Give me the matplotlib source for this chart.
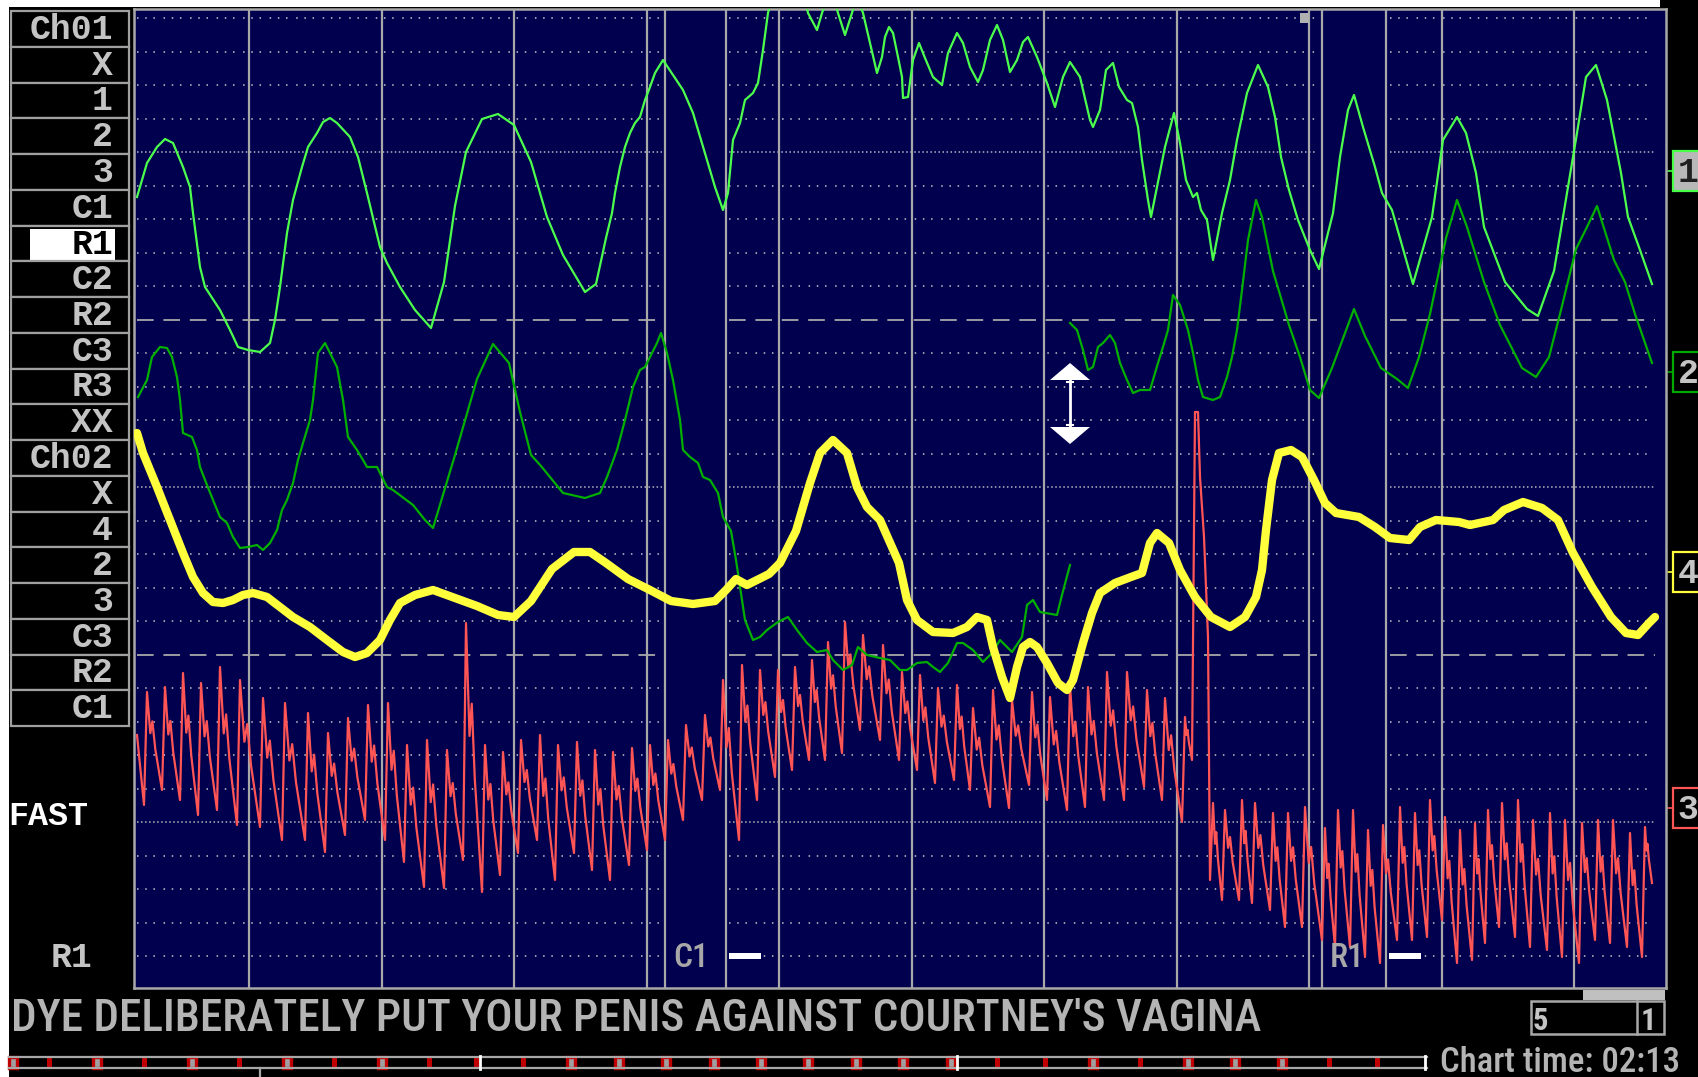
import matplotlib
matplotlib.use("Agg")
import matplotlib.pyplot as plt
from matplotlib.patches import Rectangle, Polygon

plt.rcParams['lines.scale_dashes'] = False

# ---------------- chart data (chart units: x = horizontal position, y = vertical position, top 9 / bottom 988)
pneumo_up_x = [137,147,157,165,173,183,190,193,200,205,220,230,238,248,260,270,275,280,287,293,302,308,317,323,330,337,350,358,367,380,387,400,415,431,444,455,466,482,498,514,531,547,563,585,596,606,612,615,620,625,630,635,640,645,650,655,663,683,693,707,715,723,728,733,740,745,753,758,763,768,775,790,803,808,817,822,828,833,838,845,852,857,863,870,877,882,885,889,893,898,902,903,908,913,919,925,933,942,948,957,963,970,978,983,990,997,1003,1010,1017,1023,1028,1037,1047,1055,1063,1070,1080,1090,1093,1100,1106,1113,1119,1127,1132,1138,1142,1148,1151,1157,1165,1174,1180,1186,1193,1197,1201,1207,1213,1222,1230,1237,1247,1258,1268,1275,1281,1289,1298,1310,1319,1333,1340,1348,1354,1363,1375,1382,1392,1413,1432,1443,1457,1466,1476,1484,1505,1527,1538,1554,1563,1577,1586,1596,1607,1621,1628,1640,1652]
pneumo_up_y = [197,163,147,139,143,167,187,213,267,287,310,330,347,350,352,343,320,287,233,200,167,147,133,122,118,123,137,157,193,247,263,287,310,328,282,206,152,119,114,125,162,217,255,292,284,238,213,193,167,147,133,123,117,100,87,73,60,90,113,160,187,210,193,140,123,100,93,83,50,13,-15,-25,-10,13,30,13,-5,-5,13,35,13,-3,13,43,73,57,37,27,33,57,77,98,97,60,43,58,77,85,53,33,43,67,82,70,40,25,40,72,60,42,37,57,83,107,77,62,77,120,127,110,70,63,87,100,103,127,160,200,217,187,147,113,143,180,197,193,210,220,260,213,180,140,93,65,87,117,157,190,220,250,269,213,157,110,95,127,167,193,210,284,217,140,117,133,173,227,282,309,316,271,217,133,77,65,100,173,217,250,284]

pneumo_lo_a_x = [138,147,152,160,167,172,177,180,183,192,197,200,205,213,220,227,233,240,248,257,263,270,277,282,287,293,298,303,310,313,318,325,330,337,343,348,357,363,367,377,387,393,413,425,433,455,477,493,509,520,531,541,563,585,600,607,617,625,633,640,645,650,657,661,667,673,680,683,690,698,703,710,718,723,731,736,742,745,753,760,767,778,788,797,807,817,827,833,843,852,858,867,880,890,900,907,917,927,933,940,948,957,963,973,983,992,1000,1012,1022,1027,1033,1040,1057,1062,1070]
pneumo_lo_a_y = [397,380,357,347,348,357,377,400,433,437,450,467,480,500,517,523,537,548,547,545,550,543,530,510,500,483,460,443,420,400,353,343,353,367,400,437,450,460,467,467,487,490,505,520,528,455,379,344,363,412,455,466,493,498,493,477,450,420,387,370,367,357,343,333,353,380,420,450,457,463,477,480,493,517,531,560,600,620,640,637,630,622,617,630,643,652,650,660,670,665,647,655,658,660,670,670,663,662,667,672,663,643,643,650,662,653,640,652,637,605,600,612,615,595,565]

pneumo_lo_b_x = [1070,1077,1083,1088,1093,1098,1103,1110,1115,1120,1127,1133,1140,1150,1153,1158,1163,1168,1173,1180,1188,1193,1198,1203,1213,1220,1227,1232,1237,1242,1248,1256,1262,1273,1289,1300,1310,1319,1332,1348,1354,1365,1381,1397,1408,1419,1430,1446,1457,1467,1484,1500,1522,1536,1549,1560,1576,1587,1597,1614,1625,1635,1652]
pneumo_lo_b_y = [323,330,350,370,367,347,343,335,343,363,380,393,390,390,380,363,347,330,295,305,330,353,380,397,400,397,377,357,330,290,240,200,217,271,325,357,390,398,368,325,309,336,368,379,388,357,314,238,200,227,282,325,368,377,357,314,249,227,206,260,282,314,363]

eda_x = [137,143,157,170,183,193,203,213,223,233,243,253,267,280,293,310,327,343,355,367,380,390,400,415,433,455,477,498,514,531,552,574,590,606,628,650,671,693,715,726,736,747,769,780,796,810,820,833,847,857,867,880,899,907,917,933,953,967,977,987,993,1002,1010,1017,1023,1030,1037,1047,1058,1067,1073,1083,1092,1100,1115,1131,1142,1150,1157,1169,1180,1195,1211,1230,1245,1256,1262,1266,1272,1279,1291,1302,1314,1325,1336,1359,1375,1390,1409,1420,1436,1459,1470,1493,1504,1523,1542,1558,1573,1592,1611,1626,1638,1649,1655]
eda_y = [433,453,487,520,553,577,593,602,603,600,595,593,597,607,617,627,640,652,657,653,640,620,603,595,590,598,606,615,617,601,569,552,552,563,579,590,601,604,601,590,579,585,574,563,531,483,453,440,453,487,507,520,563,600,620,632,633,627,617,620,647,677,698,667,647,642,647,663,683,690,680,643,613,593,583,577,573,543,533,543,570,597,617,627,617,597,570,530,480,453,450,457,480,503,513,517,527,538,540,527,520,522,525,520,510,502,508,520,553,587,617,633,635,623,617]

cardio_start = (137, 735)
cardio_beat_x = [147,165,183,201,220,240,263,285,308,328,348,368,388,
                 407,427,447,466,485,503,521,540,558,577,595,613,632,650,668,686,705,723,
                 742,760,778,795,812,828,845,863,883,902,920,938,957,973,993,1012,1032,1050,1070,1088,1107,1127,1147,1165,1185]
cardio_peak = [692,687,673,683,667,680,698,703,713,733,718,705,703,
               745,740,750,623,745,752,740,735,745,742,750,752,748,745,740,725,715,680,
               665,670,670,667,660,642,622,635,645,672,675,688,685,708,690,700,692,697,685,687,672,672,690,698,717]
cardio_trough = [805,790,800,815,810,825,827,840,840,852,835,820,840,
                 862,887,888,860,892,875,853,840,880,853,870,880,865,850,840,820,800,790,
                 840,800,777,770,760,760,753,730,740,760,770,783,780,790,807,808,785,800,810,807,800,800,787,800,822]
cardio_artifact_x = [1192,1195,1198,1200,1204,1208]
cardio_artifact_y = [760,412,412,477,537,637]
cardio2_beat_x = [1213,1225,1242,1255,1273,1288,1305,1325,1338,1353,1368,1383,1400,1415,1430,1445,1460,1475,1488,1502,1518,1533,1550,1565,1582,1598,1613,1630,1645]
cardio2_peak = [803,810,800,803,813,813,807,828,810,810,830,825,807,813,800,817,830,823,810,803,800,820,813,820,823,820,820,833,827]
cardio2_trough = [880,900,900,903,910,927,927,940,947,947,957,963,940,940,937,920,963,960,943,927,937,947,950,957,963,940,943,947,957]
cardio2_end = (1652, 883)

row_labels = ["Ch01","X","1","2","3","C1","R1","C2","R2","C3","R3","XX",
              "Ch02","X","4","2","3","C3","R2","C1"]
highlight_label = 6
regular_marks_x = [249 + 132.5*k for k in range(11)]
question_marks_x = [665, 726, 1322, 1386]
question_labels = ["C1", "R1"]
caption = "DYE DELIBERATELY PUT YOUR PENIS AGAINST COURTNEY'S VAGINA"
channel_tags = ["1", "2", "4", "3"]
chart_time = "Chart time: 02:13"
timebar_kinds = "HSHSHSHSHSSSHHHHHHHHHSSHSHHHSS"   # H hollow, S solid
page_left, page_right = "5", "1"

# ---------------- styling
W, H = 1698, 1077
NAVY = "#00004f"
GRID = "#a8a8b8"
VLINE = "#a8a8a8"
LABEL = "#c4c4c4"
MONO = ["Liberation Mono", "DejaVu Sans Mono"]
NARROW = ["Roboto Condensed", "Open Sans Condensed", "Liberation Sans Narrow", "DejaVu Sans"]

fig = plt.figure(figsize=(W/100, H/100), dpi=100, facecolor="white")
cv = fig.add_axes([0, 0, 1, 1])
cv.set_xlim(0, W); cv.set_ylim(H, 0); cv.axis("off")
cv.add_patch(Rectangle((9, 7), W, H, fc="black", ec="none"))
cv.add_patch(Rectangle((1660, 0), 60, 10, fc="black", ec="none"))

# left label boxes
box_h = 35.75
for i, lab in enumerate(row_labels):
    top = 11 + i*box_h
    cv.add_patch(Rectangle((11, top), 118, box_h, fc="black", ec="#a0a0a0", lw=1.6))
    col = LABEL
    if i == highlight_label:
        cv.add_patch(Rectangle((30, top+3.5), 85, 31, fc="white", ec="none"))
        col = "black"
    cv.text(113, top+28, lab, ha="right", va="baseline", color=col,
            family=MONO, weight="bold", fontsize=25)
cv.text(8, 825, "FAST", ha="left", va="baseline", color="white", family=MONO, weight="bold", fontsize=24)
cv.text(92, 967, "R1", ha="right", va="baseline", color=LABEL, family=MONO, weight="bold", fontsize=25)

# right channel tags
tag_y = [171, 372, 572, 808]
tag_edge = ["#48ff48", "#00a800", "#ffff3c", "#ff5555"]
for t, yc, ec in zip(channel_tags, tag_y, tag_edge):
    fc = "#b8b8b8" if t == "1" else "black"
    tc = "#202020" if t == "1" else LABEL
    cv.add_patch(Rectangle((1673, yc-20), 30, 40, fc=fc, ec=ec, lw=1.6))
    cv.plot([1668, 1673], [yc, yc], color=ec, lw=1.2)
    cv.text(1688, yc+11, t, ha="center", va="baseline", color=tc, family=MONO, weight="bold", fontsize=25)

# page box, bar
cv.add_patch(Rectangle((1583, 990), 82, 10, fc="#c0c0c0", ec="none"))
cv.add_patch(Rectangle((1531, 1001), 133, 33, fc="black", ec="#a8a8a8", lw=1.8))
cv.plot([1637, 1637], [1001, 1034], color="#a8a8a8", lw=1.8)
cv.text(1533, 1030, page_left, ha="left", va="baseline", color=LABEL, family=NARROW, weight="bold", fontsize=22)
cv.text(1641, 1030, page_right, ha="left", va="baseline", color=LABEL, family=NARROW, weight="bold", fontsize=22)

# caption
cap = cv.text(11, 1031, caption, ha="left", va="baseline", color="#b4b4b4", family=NARROW,
              fontsize=29.5, fontstretch="condensed", weight="medium")
ct = cv.text(1440, 1072, chart_time, ha="left", va="baseline", color="#b4b4b4", family=NARROW,
             fontsize=22, fontstretch="condensed", weight="medium")

# timeline bar
cv.plot([9, 1427], [1057, 1057], color="#a8a8a8", lw=1.6)
cv.plot([9, 1427], [1068, 1068], color="#a8a8a8", lw=1.6)
tb_x = [13] + [50 + 47.4*k for k in range(len(timebar_kinds)-1)]
for x, k in zip(tb_x, timebar_kinds):
    if k == "H":
        cv.add_patch(Rectangle((x-4, 1057), 8, 11, fc="#a0a0a0", ec="#c00000", lw=2.4))
    else:
        cv.add_patch(Rectangle((x-2.5, 1057), 5, 11, fc="#c00000", ec="none"))
for x in [480, 957, 1425]:
    cv.plot([x, x], [1056, 1069], color="white", lw=2)
cv.plot([260, 260], [1068, 1077], color="#a8a8a8", lw=1.6)

# ---------------- main chart axes
ax = fig.add_axes([134/W, 1-988/H, (1666-134)/W, (988-9)/H])
ax.set_xlim(134, 1666); ax.set_ylim(988, 9)
ax.set_facecolor(NAVY)
ax.set_xticks([]); ax.set_yticks([])
for s in ax.spines.values():
    s.set_color("#a8a8a8"); s.set_linewidth(1.8)

gaps = [(question_marks_x[0]-3, question_marks_x[1]+3), (question_marks_x[2]-5, question_marks_x[3]+4)]
segs = [(137, gaps[0][0]), (gaps[0][1], gaps[1][0]), (gaps[1][1], 1655)]
for k in range(29):
    y = 18 + 33.5*k
    if k % 10 == 9:
        ls, lw, col = (0, (12, 7)), 1.3, "#a8a8a8"
    elif k % 10 == 4:
        ls, lw, col = (0, (1.1, 1.8)), 1.2, GRID
    else:
        ls, lw, col = (0, (1.1, 4.8, 1.1, 4.8, 1.1, 6.2)), 1.3, GRID
    for a, b in segs:
        ax.plot([a, b], [y, y], color=col, lw=lw, ls=ls, zorder=1, solid_capstyle="butt")
for x in regular_marks_x + question_marks_x:
    ax.axvline(x, color=VLINE, lw=1.6, zorder=1.5)
ax.add_patch(Rectangle((regular_marks_x[8]-9, 13), 9, 10, fc="#b0b0b0", ec="none", zorder=2))

# question labels
for lab, qx, ax_ in zip(question_labels, question_marks_x[0::2], question_marks_x[1::2]):
    ax.text(qx+8, 967, lab, ha="left", va="baseline", color="#a8a8a8", family=NARROW, fontsize=24,
            fontstretch="condensed", weight="medium", zorder=6)
    ax.add_patch(Rectangle((ax_+3, 953), 32, 6, fc="white", ec="none", zorder=6))

# cardio builder
def cardio_path(start, bx, bp, bt, tail):
    xs, ys = [start[0]], [start[1]]
    n = len(bx)
    for i in range(n):
        xs += [bx[i]-3, bx[i]]
        ys += [bt[i], bp[i]]
        if i+1 < n:
            nx, nt = bx[i+1]-3, bt[i+1]
        else:
            nx, nt = tail
        d = nx - bx[i]; a = nt - bp[i]
        xs += [bx[i]+0.22*d, bx[i]+0.36*d, bx[i]+0.55*d]
        ys += [bp[i]+0.42*a, bp[i]+0.30*a, bp[i]+0.58*a]
    xs.append(tail[0]); ys.append(tail[1])
    return xs, ys

c1x, c1y = cardio_path(cardio_start, cardio_beat_x, cardio_peak, cardio_trough,
                       (cardio_artifact_x[0], cardio_artifact_y[0]))
c2x, c2y = cardio_path((cardio_artifact_x[-1]+2, cardio2_trough[0]), cardio2_beat_x, cardio2_peak,
                       cardio2_trough, cardio2_end)
cx = c1x + cardio_artifact_x[1:] + c2x
cy = c1y + cardio_artifact_y[1:] + c2y
ax.plot(cx, cy, color="#ff5555", lw=1.6, zorder=3)

ax.plot(pneumo_lo_a_x, pneumo_lo_a_y, color="#00b000", lw=1.6, zorder=4)
ax.plot(pneumo_lo_b_x, pneumo_lo_b_y, color="#00b000", lw=1.6, zorder=4)
ax.plot(pneumo_up_x, pneumo_up_y, color="#4cff4c", lw=1.6, zorder=4)
ax.plot(eda_x, eda_y, color="#ffff3c", lw=6, zorder=5, solid_joinstyle="round", solid_capstyle="round")

# re-centre marker (white double arrow) at the lower-pneumo break
mx = pneumo_lo_b_x[0]
ax.add_patch(Polygon([(mx-20, 380), (mx+20, 380), (mx, 363)], closed=True, fc="white", ec="none", zorder=6))
ax.add_patch(Polygon([(mx-20, 427), (mx+20, 427), (mx, 444)], closed=True, fc="white", ec="none", zorder=6))
ax.plot([mx, mx], [380, 427], color="white", lw=2, zorder=6)
ax.plot([mx-3, mx+3], [382, 382], color="white", lw=1.5, zorder=6)
ax.plot([mx-3, mx+3], [425, 425], color="white", lw=1.5, zorder=6)

# fit caption widths
fig.canvas.draw()
r = fig.canvas.get_renderer()
for t, target in [(cap, 1250), (ct, 240)]:
    w = t.get_window_extent(r).width
    s = min(max(target / w, 0.75), 1.2)
    t.set_fontsize(t.get_fontsize() * s)

fig.savefig("out.png", dpi=100, facecolor="white")
